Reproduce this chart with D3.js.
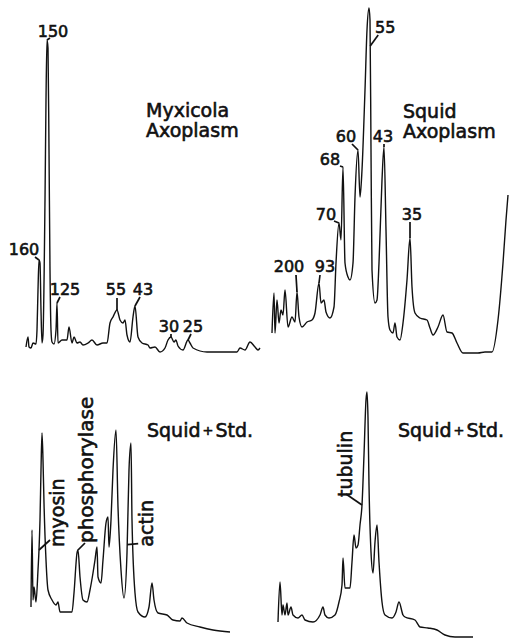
<!DOCTYPE html>
<html>
<head>
<meta charset="utf-8">
<script src="https://cdn.jsdelivr.net/npm/d3@7/dist/d3.min.js"></script>
<style>
  body { margin: 0; background: #fff; }
  svg { display: block; }
  text { font-family: 'DejaVu Sans', sans-serif; fill: #111; stroke: #111; stroke-width: 0.6; }
</style>
</head>
<body>
<svg></svg>
<script>
// densitometer scans: [distance along gel, absorbance]
const myxicolaTrace = [[6,5],[8,15],[9,5],[11,4],[13,9],[16,8],[17,22],[18,62],[19,92],[20,89],[21,42],[22,9],[23,17],[25,152],[26,252],[27,312],[28,304],[29,202],[30,82],[31,22],[32,10],[34,8],[36,22],[37,49],[38,9],[42,12],[47,12],[49,25],[52,9],[54,15],[57,9],[60,10],[63,7],[68,9],[72,12],[77,7],[83,9],[87,9],[90,29],[93,35],[97,42],[100,32],[103,29],[105,32],[107,17],[110,10],[113,35],[115,46],[118,15],[122,9],[128,7],[130,4],[135,5],[140,0],[145,4],[148,12],[151,15],[154,10],[156,12],[158,6],[163,2],[168,12],[170,9],[173,4],[187,0],[217,0],[220,4],[225,2],[230,10],[235,5],[238,2],[240,4]];
const squidTrace = [[7,22],[9,62],[10,22],[12,55],[14,32],[16,45],[18,40],[20,65],[23,28],[27,38],[30,33],[32,63],[34,38],[37,28],[42,33],[47,35],[50,42],[54,72],[56,52],[59,55],[61,43],[65,37],[69,48],[71,92],[74,132],[76,115],[78,188],[80,92],[83,78],[85,75],[88,92],[90,158],[93,205],[95,158],[97,185],[100,265],[102,325],[104,347],[105,335],[106,205],[107,85],[110,52],[112,55],[114,92],[117,175],[119,208],[121,125],[123,38],[125,25],[128,22],[130,32],[132,18],[135,15],[138,32],[142,75],[145,117],[147,68],[150,42],[155,37],[162,35],[165,27],[168,20],[173,28],[178,40],[182,23],[187,22],[192,12],[198,2],[213,2],[220,3],[227,3],[233,35],[238,92],[241,135],[243,160]];
const squidStdTrace = [[6,28],[7,105],[8,35],[9,48],[11,33],[13,65],[14,85],[15,115],[16,165],[17,202],[18,175],[19,132],[21,75],[23,45],[27,35],[31,30],[33,33],[35,23],[47,23],[49,42],[52,82],[53,85],[55,58],[58,35],[62,33],[65,45],[68,62],[70,75],[72,88],[73,58],[76,52],[78,75],[81,112],[83,118],[84,88],[86,115],[88,165],[91,205],[93,128],[96,65],[99,37],[102,82],[104,165],[106,192],[107,115],[110,42],[113,23],[120,18],[124,28],[127,52],[129,35],[133,22],[142,20],[148,15],[155,14],[157,17],[162,12],[175,8],[188,5],[205,3]];
const squidTubulinTrace = [[8,18],[10,58],[12,25],[13,35],[15,25],[17,37],[18,25],[21,33],[23,25],[28,22],[32,25],[35,20],[43,18],[50,25],[53,33],[55,25],[59,22],[65,25],[69,38],[72,55],[73,82],[75,52],[80,52],[82,78],[84,105],[86,92],[88,95],[90,115],[92,135],[94,185],[96,240],[97,248],[98,222],[99,155],[101,88],[103,67],[105,98],[107,115],[109,78],[112,38],[115,25],[122,22],[126,28],[129,38],[133,25],[135,23],[145,20],[150,13],[158,12],[167,10],[175,5],[185,3],[203,3]];

// labelled bands (kD or standard name) and where they sit on the scan
const myxicolaBands = ['160', '150', '125', '55', '43', '30', '25'];
const myxicolaBandAt = [19, 27, 37, 97, 115, 151, 168];
const squidBands = ['200', '93', '70', '68', '60', '55', '43', '35'];
const squidBandAt = [32, 54, 74, 78, 93, 105.2, 119, 145];
const standardBands = ['myosin', 'phosphorylase', 'actin'];
const standardBandAt = [14, 53, 102.2];
const tubulinBands = ['tubulin'];
const tubulinBandAt = [92];

const width = 509;
const height = 639;

const svg = d3.select('svg')
  .attr('width', width)
  .attr('height', height);

// label offsets from band point: [text dx, text dy, leader dx, leader dy]
const panels = [
  { trace: myxicolaTrace, bands: myxicolaBands, at: myxicolaBandAt, left: 20, base: 352, vertical: false,
    tags: [[-15,-5,-4,-3],[6,-3,3,-2],[8,-8,3,-6],[-1,-15,0,-12],[8,-11,5,-9],[-2,-5,0,-3],[5,-8,3,-6]],
    title: ['Myxicola', 'Axoplasm'], tx: 146, ty: 117 },
  { trace: squidTrace, bands: squidBands, at: squidBandAt, left: 265, base: 355, vertical: false,
    tags: [[-8,-20,-1,-17],[6,-11,1,-8],[-13,-3,-5,-2],[-13,-2,-3,-1],[-12,-8,-6,-6],[15,-13,8,-11],[-1,-5,0,-3],[2,-18,0,-16]],
    title: ['Squid', 'Axoplasm'], tx: 403, ty: 118 },
  { trace: squidStdTrace, bands: standardBands, at: standardBandAt, left: 25, base: 635, vertical: true,
    tags: [[25,-3,11,-10],[15,-7,7,-7],[26,2,11,-1]],
    title: ['Squid|+|Std.'], tx: 147, ty: 437 },
  { trace: squidTubulinTrace, bands: tubulinBands, at: tubulinBandAt, left: 270, base: 640, vertical: true,
    tags: [[-10,-8,-16,-11]],
    title: ['Squid|+|Std.'], tx: 398, ty: 437 }
];

const valueAt = (trace, x) => {
  const i = d3.bisector(d => d[0]).left(trace, x);
  if (i <= 0) return trace[0][1];
  if (i >= trace.length) return trace[trace.length - 1][1];
  const a = trace[i - 1], b = trace[i];
  return a[1] + (b[1] - a[1]) * (x - a[0]) / (b[0] - a[0]);
};

panels.forEach(p => {
  const xScale = d3.scaleLinear().domain([0, 250]).range([p.left, p.left + 250]);
  const yScale = d3.scaleLinear().domain([0, 360]).range([p.base, p.base - 360]);

  const line = d3.line()
    .x(d => xScale(d[0]))
    .y(d => yScale(d[1]))
    .curve(d3.curveMonotoneX);

  const g = svg.append('g');

  g.append('path')
    .datum(p.trace)
    .attr('d', line)
    .attr('fill', 'none')
    .attr('stroke', '#111')
    .attr('stroke-width', 1.4)
    .attr('stroke-linejoin', 'round');

  p.bands.forEach((name, i) => {
    const bx = xScale(p.at[i]);
    const by = yScale(valueAt(p.trace, p.at[i]));
    const t = p.tags[i];

    g.append('line')
      .attr('x1', bx + t[2]).attr('y1', by + t[3])
      .attr('x2', bx).attr('y2', by)
      .attr('stroke', '#111')
      .attr('stroke-width', 1.7);

    if (p.vertical) {
      g.append('text')
        .attr('transform', `translate(${bx + t[0]}, ${by + t[1]}) rotate(-90)`)
        .attr('font-size', name.length > 8 ? 20 : 19)
        .text(name);
    } else {
      g.append('text')
        .attr('x', bx + t[0])
        .attr('y', by + t[1])
        .attr('text-anchor', 'middle')
        .attr('font-size', 16)
        .text(name);
    }
  });

  p.title.forEach((s, i) => {
    const txt = g.append('text')
      .attr('x', p.tx)
      .attr('y', p.ty + i * 20)
      .attr('font-size', 19);
    const parts = s.split('|');
    if (parts.length === 1) {
      txt.text(s);
    } else {
      txt.append('tspan').text(parts[0]);
      txt.append('tspan').attr('dx', 2).attr('font-size', 13).attr('dy', -2).text(parts[1]);
      txt.append('tspan').attr('dx', 2).attr('dy', 2).text(parts[2]);
    }
  });
});
</script>
</body>
</html>
